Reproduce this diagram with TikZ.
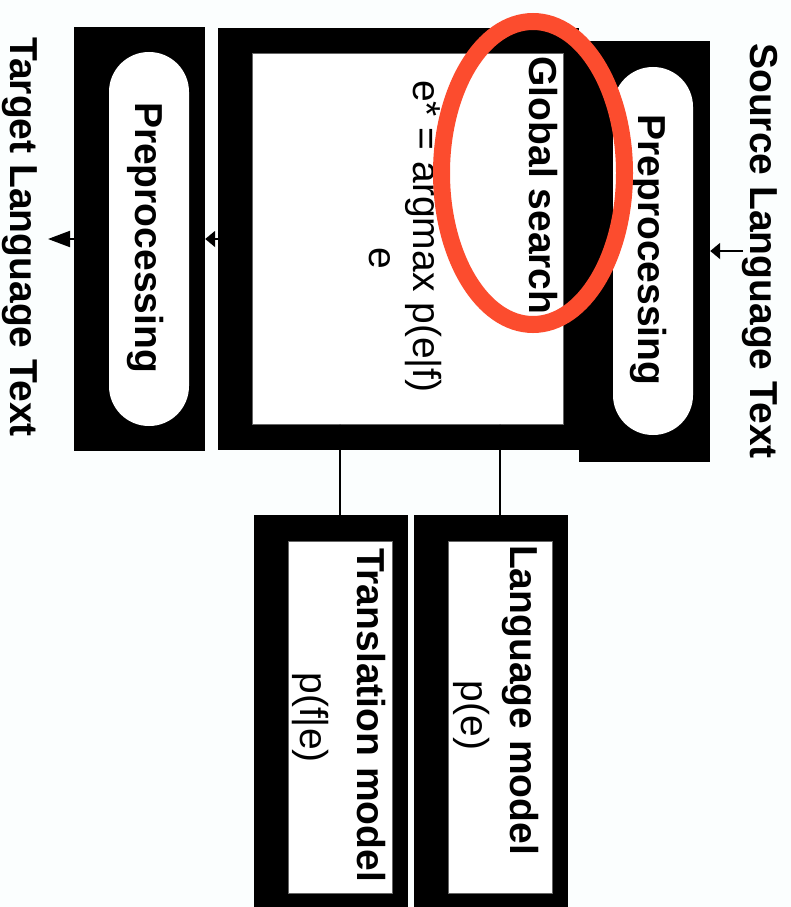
\documentclass[tikz,border=0pt]{standalone}
\usepackage{fontspec}
\setmainfont{Liberation Sans}
\usetikzlibrary{arrows.meta,shapes.geometric}
\definecolor{paper}{RGB}{251,254,254}
\definecolor{hilite}{RGB}{252,76,46}
\tikzset{
  blackbox/.style={draw=none, fill=black, inner sep=0pt},
  whitebox/.style={draw=black!60, line width=0.4pt, fill=white, inner sep=0pt},
  pill/.style={draw=none, fill=white, inner sep=0pt, rounded corners=39.9pt},
  vtext/.style={rotate=-90, anchor=base, inner sep=0pt,
    font=\fontsize{39}{45}\selectfont},
  vbold/.style={vtext, font=\fontsize{39}{45}\selectfont\bfseries},
  flow/.style={line width=2pt, -{Triangle[length=10pt,width=16pt]}},
  longflow/.style={line width=2pt, -{Triangle[length=22pt,width=16pt]}},
  feed/.style={line width=1.4pt, -{Triangle[length=8pt,width=8pt]}},
}
\begin{document}
\begin{tikzpicture}[x=1pt,y=-1pt]
  \useasboundingbox (0,0) rectangle (791,907);
  \fill[paper] (0,0) rectangle (791,907);

  % decoder with global search
  \node[blackbox, minimum width=361pt, minimum height=422pt] (mainout) at (398.5,239) {};
  \node[whitebox, minimum width=311pt, minimum height=371pt] (mainin) at (407.5,238.5) {};

  % source-side preprocessing
  \node[blackbox, minimum width=131pt, minimum height=421pt] (rpreout) at (644.5,251.5) {};
  \node[pill, minimum width=80pt, minimum height=368pt] (rprein) at (653,251) {};

  % target-side preprocessing
  \node[blackbox, minimum width=131pt, minimum height=424pt] (lpreout) at (139.5,239) {};
  \node[pill, minimum width=80pt, minimum height=374pt] (lprein) at (149,239) {};

  % models
  \node[blackbox, minimum width=154pt, minimum height=392pt] (tmout) at (331,711) {};
  \node[whitebox, minimum width=104pt, minimum height=352pt] (tmin) at (340,717) {};
  \node[blackbox, minimum width=154pt, minimum height=392pt] (lmout) at (491,711) {};
  \node[whitebox, minimum width=104pt, minimum height=352pt] (lmin) at (500,717) {};

  % labels
  \node[vbold] (srctext) at (750,251) {Source Language Text};
  \node[vbold] (tgttext) at (10,237) {Target Language Text};
  \node[vbold] (rprelabel) at (638,250) {Preprocessing};
  \node[vbold] (lprelabel) at (135,237.5) {Preprocessing};
  \node[vbold] (searchlabel) at (529,185.5) {Global search};
  \node[vtext] (formula) at (413,236.5) {e* = argmax p(e|f)};
  \node[vtext] (formulasub) at (369,258) {e};
  \node[vbold] (lmlabel) at (510,700) {Language model};
  \node[vtext] (lmprob) at (461,715.5) {p(e)};
  \node[vbold] (tmlabel) at (357,715) {Translation model};
  \node[vtext] (tmprob) at (300,717.5) {p(f|e)};

  % connectors
  \coordinate (srcstart) at (743,251);
  \coordinate (tgtend) at (48,239);
  \draw[flow] (srcstart) -- (srcstart -| rpreout.east);
  \draw[flow] (mainout.west) -- (mainout.west -| lpreout.east);
  \draw[longflow] (lpreout.west) -- (tgtend);
  \draw[feed] (tmin.north |- tmout.north) -- (tmin.north |- mainin.south);
  \draw[feed] (lmin.north |- lmout.north) -- (lmin.north |- mainin.south);

  % highlight around the search step
  \node[draw=hilite, ellipse, line width=17pt, inner sep=0pt,
        minimum width=183pt, minimum height=303pt] (focus) at (533,173) {};
\end{tikzpicture}
\end{document}
